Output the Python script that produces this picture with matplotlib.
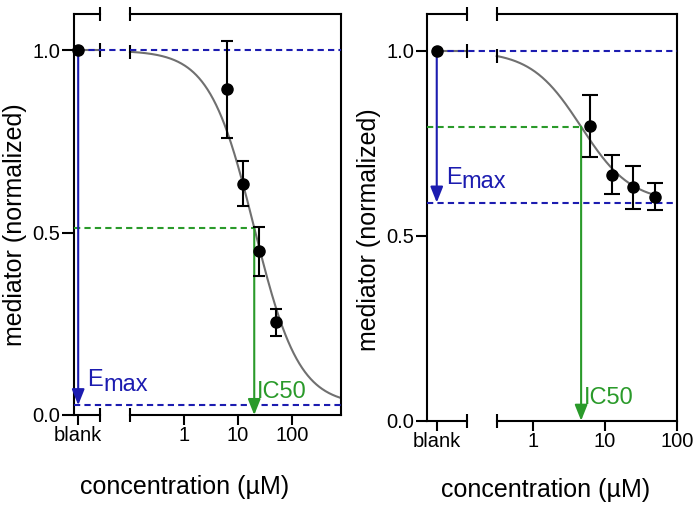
import numpy as np
import matplotlib
matplotlib.use('Agg')
import matplotlib.pyplot as plt
from matplotlib.ticker import NullLocator

plt.rcParams['font.family'] = ['Liberation Sans', 'DejaVu Sans']

# left panel: measured points (mean +/- error) and the fitted curve
left_conc = [6.25, 12.5, 25, 50]
left_mean = [0.893, 0.635, 0.449, 0.254]
left_err = [0.132, 0.062, 0.067, 0.037]
left_blank = 1.0
left_fit = {'top': 1.0, 'bottom': 0.027, 'ic50': 20.0, 'hill': 1.05}

# right panel
right_conc = [6.25, 12.5, 25, 50]
right_mean = [0.797, 0.665, 0.631, 0.606]
right_err = [0.085, 0.053, 0.058, 0.036]
right_blank = 1.0
right_fit = {'top': 1.0, 'bottom': 0.59, 'ic50': 4.7, 'hill': 1.25}

x_ticks = [1, 10, 100]
x_ticklabels = ['1', '10', '100']
y_ticks = [0.0, 0.5, 1.0]
y_ticklabels = ['0.0', '0.5', '1.0']

BLUE = '#1c1cb0'
GREEN = '#2a9a2a'
GRAY = '#707070'
DASH = (0, (3, 2))


def hill(c, fit):
    return fit['bottom'] + (fit['top'] - fit['bottom']) / (1 + (np.asarray(c) / fit['ic50']) ** fit['hill'])


def draw_panel(ax, conc, mean, err, blank, fit, xlim, blank_pos, gap, curve_end, capsize, ytick_len):
    ax.set_xscale('log')
    ax.set_xlim(xlim)
    ax.set_ylim(0, 1.1)
    xax = ax.get_xaxis_transform()

    # frame with a break in the x axis (blank | concentrations)
    ax.spines['top'].set_visible(False)
    ax.spines['bottom'].set_visible(False)
    ax.spines['left'].set_linewidth(1.5)
    ax.spines['right'].set_linewidth(1.5)
    for yy in [0, 1]:
        ax.plot([xlim[0], gap[0]], [yy, yy], color='k', lw=1.5, transform=xax, clip_on=False)
        ax.plot([gap[1], xlim[1]], [yy, yy], color='k', lw=1.5, transform=xax, clip_on=False)
        ax.plot(gap, [yy, yy], ls='none', marker='|', ms=10, mew=1.5, color='k',
                transform=xax, clip_on=False)

    # fitted curve, blank level and break marks on the curve
    c = np.logspace(np.log10(gap[1]), np.log10(curve_end), 300)
    ax.plot(c, hill(c, fit), color=GRAY, lw=1.5, zorder=2)
    ax.plot([blank_pos, gap[0]], [blank, blank], color=GRAY, lw=1.5, zorder=2)
    ax.plot(gap, [blank, hill(gap[1], fit)], ls='none', marker='|', ms=10, mew=1.5, color='k', zorder=3)

    # Emax guide lines and arrow
    ax.plot([blank_pos, xlim[1]], [fit['top'], fit['top']], color=BLUE, ls=DASH, lw=1.5, zorder=3)
    ax.plot([xlim[0], xlim[1]], [fit['bottom'], fit['bottom']], color=BLUE, ls=DASH, lw=1.5, zorder=3)
    ax.annotate('', xy=(blank_pos, fit['bottom']), xytext=(blank_pos, blank),
                arrowprops=dict(arrowstyle='-|>,head_length=0.5,head_width=0.2', color=BLUE,
                                lw=1.5, mutation_scale=19, shrinkA=0, shrinkB=0), zorder=4)
    ax.annotate('E', xy=(blank_pos, fit['bottom']), xytext=(6.5, 13.5), textcoords='offset points',
                color=BLUE, fontsize=17, ha='left', va='baseline')
    ax.annotate('max', xy=(blank_pos, fit['bottom']), xytext=(18, 10.5), textcoords='offset points',
                color=BLUE, fontsize=17, ha='left', va='baseline')

    # IC50 guide line and arrow
    half = (fit['top'] + fit['bottom']) / 2
    ax.plot([xlim[0], fit['ic50']], [half, half], color=GREEN, ls=DASH, lw=1.5, zorder=3)
    ax.annotate('', xy=(fit['ic50'], 0), xytext=(fit['ic50'], half),
                arrowprops=dict(arrowstyle='-|>,head_length=0.5,head_width=0.2', color=GREEN,
                                lw=1.5, mutation_scale=19, shrinkA=0, shrinkB=0), zorder=4)
    ax.annotate('IC50', xy=(fit['ic50'], 0), xytext=(2, 12), textcoords='offset points',
                color=GREEN, fontsize=17, ha='left', va='baseline')

    # data points
    ax.errorbar(conc, mean, yerr=err, fmt='o', color='k', ms=8, elinewidth=1.5,
                capsize=capsize, capthick=1.5, zorder=5)
    ax.plot([blank_pos], [blank], 'o', color='k', ms=8, clip_on=False, zorder=5)

    ax.set_xticks([blank_pos] + x_ticks)
    ax.set_xticklabels(['blank'] + x_ticklabels)
    ax.xaxis.set_minor_locator(NullLocator())
    ax.set_yticks(y_ticks)
    ax.set_yticklabels(y_ticklabels)
    ax.tick_params(axis='x', length=7, width=1.5, labelsize=14.5, pad=1)
    ax.tick_params(axis='y', length=ytick_len, width=1.5, labelsize=14.5, pad=1.5)


fig = plt.figure(figsize=(7, 5.07), dpi=100)
ax1 = fig.add_axes([74 / 700, 1 - 415 / 507, 267 / 700, 401 / 507])
ax2 = fig.add_axes([427.3 / 700, 1 - 420.7 / 507, 249.4 / 700, 406.7 / 507])

draw_panel(ax1, left_conc, left_mean, left_err, left_blank, left_fit,
           xlim=(0.0092, 808), blank_pos=0.011, gap=(0.0278, 0.1), curve_end=808,
           capsize=4.3, ytick_len=8.6)
draw_panel(ax2, right_conc, right_mean, right_err, right_blank, right_fit,
           xlim=(0.0343, 100), blank_pos=0.0464, gap=(0.121, 0.316), curve_end=50,
           capsize=5.5, ytick_len=7.7)

fig.text(15 / 700, 1 - 225 / 507, 'mediator (normalized)', rotation=90, ha='center', va='center', fontsize=18)
fig.text(369.5 / 700, 1 - 230 / 507, 'mediator (normalized)', rotation=90, ha='center', va='center', fontsize=18)
fig.text(185 / 700, 1 - 487 / 507, 'concentration (µM)', ha='center', va='center', fontsize=18)
fig.text(546 / 700, 1 - 490 / 507, 'concentration (µM)', ha='center', va='center', fontsize=18)

fig.savefig('out.png', dpi=100)
